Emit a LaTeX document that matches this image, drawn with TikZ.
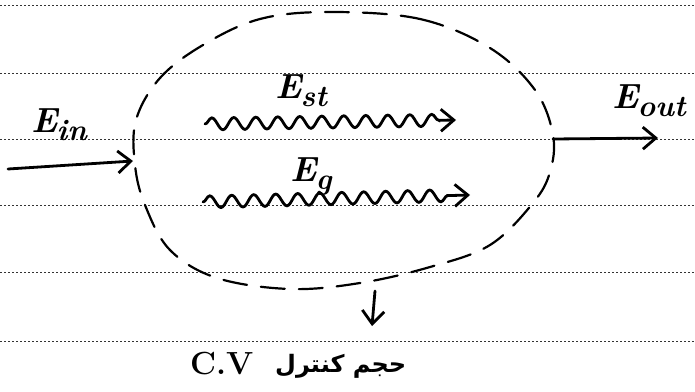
\documentclass[tikz,border=0pt]{standalone}
\usepackage{fontspec}
\usetikzlibrary{arrows.meta,decorations.pathmorphing}
\newfontfamily\arabicfont[Script=Arabic]{DejaVu Sans}
\TeXXeTstate=1
\newcommand\Elab[1]{{\bfseries\itshape\fontsize{35}{36}\selectfont E\kern-1pt\raisebox{-8pt}{\fontsize{30}{30}\selectfont #1}}}
\begin{document}
\begin{tikzpicture}[x=1pt,y=-1pt,
  ruled/.style={black!80,line width=0.8pt,dash pattern=on 2pt off 2pt},
  cvline/.style={black,line width=2.2pt,dash pattern=on 24pt off 14pt,line cap=round},
  flow/.style={black,line width=2.8pt,line cap=round,-{Straight Barb[length=13pt,width=22pt]}},
  wavy/.style={flow,decorate,decoration={snake,amplitude=6pt,segment length=22pt,post length=14pt}},
  lab/.style={inner sep=0pt,anchor=base west}]
\useasboundingbox (0,0) rectangle (695,391);
\fill[white] (0,0) rectangle (695,391);
% ruled paper
\foreach \yy in {5,73,139,205,272,341}
  \draw[ruled] (0,\yy) -- (695,\yy);
% control volume boundary
\draw[cvline] plot[smooth cycle,tension=0.6] coordinates {
 (330,12) (420,19) (490,48) (535,90) (553,135) (550,172) (533,203)
 (490,245) (430,267) (360,283) (290,289) (217,278) (170,250)
 (145,205) (135,165) (136,120) (160,78) (203,45) (260,19)};
% endpoints
\coordinate (inS) at (8,169);
\coordinate (inE) at (133,161);
\coordinate (outS) at (553,139);
\coordinate (outE) at (658,138);
\coordinate (stS) at (205,124);
\coordinate (stE) at (456,120);
\coordinate (gS) at (203,202);
\coordinate (gE) at (470,195);
\coordinate (cvS) at (375,291);
\coordinate (cvE) at (372,326);
% arrows
\draw[flow] (inS) -- (inE);
\draw[flow] (outS) -- (outE);
\draw[wavy] (stS) -- (stE);
\draw[wavy] (gS) -- (gE);
\draw[flow] (cvS) -- (cvE);
% labels
\node[lab] (Ein) at (31,132) {\Elab{in}};
\node[lab] (Eout) at (612,108) {\Elab{out}};
\node[lab] (Est) at (275,98) {\Elab{st}};
\node[lab] (Eg) at (290,181) {\Elab{g}};
\node[lab] (cv) at (190,374) {\bfseries\fontsize{32}{34}\selectfont C.V};
\node[lab] (cvfa) at (275,372) {\arabicfont\bfseries\fontsize{24}{28}\selectfont\beginR حجم کنترل\endR};
\end{tikzpicture}
\end{document}
